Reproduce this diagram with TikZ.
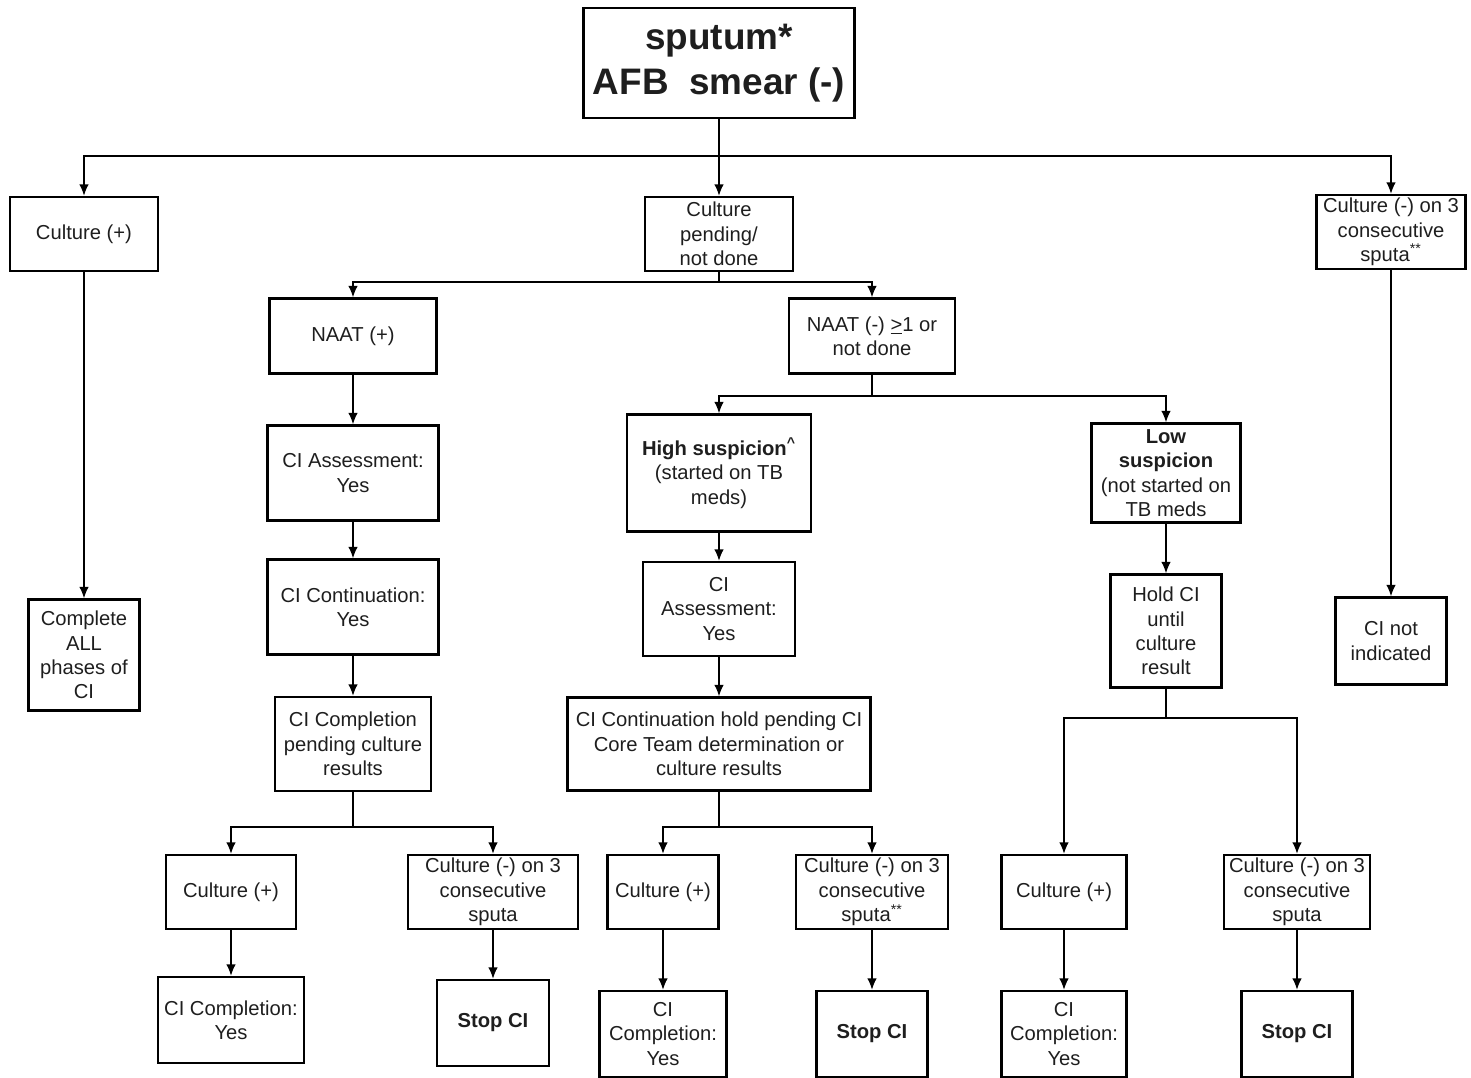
\documentclass[tikz,border=0pt]{standalone}
\usepackage{fontspec}
\setmainfont{Liberation Sans}
\usepackage{tikz}
\usetikzlibrary{arrows.meta}
\definecolor{ink}{HTML}{1E1E1E}
\tikzset{box/.style = {draw, line width=1.4pt, align=center, text centered, inner sep=1pt, text=ink}}
\tikzset{sz/.style 2 args = {minimum width=#1cm, minimum height=#2cm}}
\tikzset{ln/.style = {line width=.75pt}}
\tikzset{arr/.style = {line width=.75pt, -{Latex[length=6.5pt, width=5.4pt]}}}

\begin{document}
\begin{tikzpicture}[x=.02cm, y=-.02cm,
  font=\fontsize{11.5}{13.9}\selectfont
]
\useasboundingbox (0,0) rectangle (1471,1078);

% top row
\node[box, sz={5.42}{2.2}, font=\fontsize{21}{25.6}\selectfont\bfseries] (n0) at (719,63) {sputum*\\AFB\ \ smear (-)};
\node[box, sz={2.96}{1.48}] (n1) at (84,234) {Culture (+)};
\node[box, sz={2.96}{1.48}] (n2) at (719,234) {Culture\\pending/\\not done};
\node[box, sz={2.98}{1.48}] (n3) at (1391,232) {Culture (-) on 3\\consecutive\\sputa\textsuperscript{**}};
\node[box, sz={2.22}{2.22}] (n4) at (84,655) {Complete\\ALL\\phases of\\CI};
\node[box, sz={2.22}{1.74}] (n5) at (1391,641) {CI not\\indicated};

% NAAT (+) branch
\node[box, sz={3.34}{1.5}] (n6) at (353,336) {NAAT (+)};
\node[box, sz={3.42}{1.9}] (n7) at (353,473) {CI Assessment:\\Yes};
\node[box, sz={3.42}{1.9}] (n8) at (353,607) {CI Continuation:\\Yes};
\node[box, sz={3.12}{1.88}] (n9) at (353,744) {CI Completion\\pending culture\\results};
\node[box, sz={2.6}{1.48}] (n10) at (231,892) {Culture (+)};
\node[box, sz={3.4}{1.48}] (n11) at (493,892) {Culture (-) on 3\\consecutive\\sputa};
\node[box, sz={2.92}{1.72}] (n12) at (231,1020) {CI Completion:\\Yes};
\node[box, sz={2.24}{1.72}, font=\fontsize{11.5}{13.9}\selectfont\bfseries] (n13) at (493,1023) {Stop CI};

% NAAT (-) branch, high suspicion
\node[box, sz={3.32}{1.5}] (n14) at (872,336) {NAAT (-) \underline{>}1 or\\not done};
\node[box, sz={3.68}{2.34}] (n15) at (719,473) {\textbf{High suspicion}\textsuperscript{\textbf{\textasciicircum}}\\(started on TB\\meds)};
\node[box, sz={3.04}{1.88}] (n16) at (719,609) {CI\\Assessment:\\Yes};
\node[box, sz={6.06}{1.86}] (n17) at (719,744) {CI Continuation hold pending CI\\Core Team determination or\\culture results};
\node[box, sz={2.22}{1.48}] (n18) at (663,892) {Culture (+)};
\node[box, sz={3.04}{1.48}] (n19) at (872,892) {Culture (-) on 3\\consecutive\\sputa\textsuperscript{**}};
\node[box, sz={2.54}{1.72}] (n20) at (663,1034) {CI\\Completion:\\Yes};
\node[box, sz={2.22}{1.72}, font=\fontsize{11.5}{13.9}\selectfont\bfseries] (n21) at (872,1034) {Stop CI};

% low suspicion
\node[box, sz={2.98}{1.98}] (n22) at (1166,473) {\textbf{Low}\\\textbf{suspicion}\\(not started on\\TB meds};
\node[box, sz={2.22}{2.26}] (n23) at (1166,631) {Hold CI\\until\\culture\\result};
\node[box, sz={2.5}{1.48}] (n24) at (1064,892) {Culture (+)};
\node[box, sz={2.92}{1.48}] (n25) at (1297,892) {Culture (-) on 3\\consecutive\\sputa};
\node[box, sz={2.5}{1.72}] (n26) at (1064,1034) {CI\\Completion:\\Yes};
\node[box, sz={2.22}{1.72}, font=\fontsize{11.5}{13.9}\selectfont\bfseries] (n27) at (1297,1034) {Stop CI};

% split points
\coordinate (j0) at (719,156);
\coordinate (j1) at (719,282);
\coordinate (j2) at (872,396);
\coordinate (j3) at (353,827);
\coordinate (j4) at (719,827);
\coordinate (j5) at (1166,718);

\draw[ln]  (n0) -- (j0);
\draw[arr] (j0) -| (n1);
\draw[arr] (j0) -- (n2);
\draw[arr] (j0) -| (n3);
\draw[arr] (n1) -- (n4);
\draw[arr] (n3) -- (n5);

\draw[ln]  (n2) -- (j1);
\draw[arr] (j1) -| (n6);
\draw[arr] (j1) -| (n14);
\draw[arr] (n6) -- (n7);
\draw[arr] (n7) -- (n8);
\draw[arr] (n8) -- (n9);
\draw[ln]  (n9) -- (j3);
\draw[arr] (j3) -| (n10);
\draw[arr] (j3) -| (n11);
\draw[arr] (n10) -- (n12);
\draw[arr] (n11) -- (n13);

\draw[ln]  (n14) -- (j2);
\draw[arr] (j2) -| (n15);
\draw[arr] (j2) -| (n22);
\draw[arr] (n15) -- (n16);
\draw[arr] (n16) -- (n17);
\draw[ln]  (n17) -- (j4);
\draw[arr] (j4) -| (n18);
\draw[arr] (j4) -| (n19);
\draw[arr] (n18) -- (n20);
\draw[arr] (n19) -- (n21);

\draw[arr] (n22) -- (n23);
\draw[ln]  (n23) -- (j5);
\draw[arr] (j5) -| (n24);
\draw[arr] (j5) -| (n25);
\draw[arr] (n24) -- (n26);
\draw[arr] (n25) -- (n27);

\end{tikzpicture}
\end{document}
